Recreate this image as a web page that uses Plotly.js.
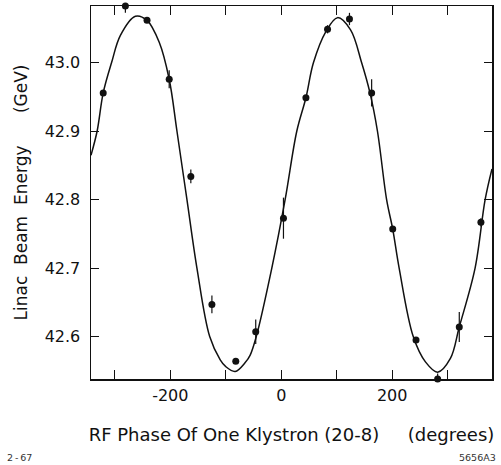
<!DOCTYPE html>
<html>
<head>
<meta charset="utf-8">
<script src="https://cdn.plot.ly/plotly-3.0.1.min.js"></script>
<style>html,body{margin:0;padding:0;background:#fff;}#chart{width:501px;height:465px;}</style>
</head>
<body>
<div id="chart"></div>
<script>
// Measured points
const phase  = [-321, -281, -242, -202, -163, -125, -82, -46, 4, 44.5, 83.5, 123, 163, 201, 243, 282, 321, 360];
const energy = [42.956, 43.083, 43.062, 42.976, 42.834, 42.647, 42.564, 42.607, 42.773, 42.949, 43.049, 43.064, 42.956, 42.757, 42.595, 42.538, 42.614, 42.767];
const energyErr = [0, 0.01, 0.004, 0.013, 0.01, 0.013, 0, 0.018, 0.03, 0, 0.006, 0.009, 0.02, 0, 0, 0.008, 0.022, 0.006];

// Fitted curve
const curvePhase  = [-343, -332, -321, -306, -290, -263, -242, -220, -202, -188, -170, -152, -129, -110, -100, -83, -65, -56, -45, -17, 7, 28, 44.5, 58, 80, 101.5, 125, 145, 160, 173.5, 190, 201, 212.6, 238, 260, 282, 305, 321, 349.5, 367.6, 380];
const curveEnergy = [42.865, 42.9, 42.956, 43.0, 43.04, 43.068, 43.062, 43.03, 42.976, 42.9, 42.8, 42.7, 42.6, 42.566, 42.556, 42.549, 42.562, 42.573, 42.6, 42.7, 42.8, 42.9, 42.949, 43.0, 43.045, 43.066, 43.048, 43.0, 42.956, 42.9, 42.8, 42.757, 42.7, 42.6, 42.563, 42.548, 42.568, 42.614, 42.7, 42.8, 42.845];

const xTickVals = [-300, -200, -100, 0, 100, 200, 300];
const xTickText = ['', '-200', '', '0', '', '200', ''];
const yTickVals = [42.6, 42.7, 42.8, 42.9, 43.0];
const yTickText = ['42.6', '42.7', '42.8', '42.9', '43.0'];

const font = 'DejaVu Sans, Verdana, sans-serif';
const ink = '#111';
const nb = '\u00a0';

const traces = [
  {
    x: curvePhase, y: curveEnergy, type: 'scatter', mode: 'lines',
    line: {color: ink, width: 1.5, shape: 'spline', smoothing: 1.0},
    hoverinfo: 'skip', showlegend: false
  },
  {
    x: phase, y: energy, type: 'scatter', mode: 'markers',
    marker: {color: ink, size: 7},
    error_y: {type: 'data', array: energyErr, visible: true, color: ink, thickness: 1.2, width: 0},
    cliponaxis: false, showlegend: false
  }
];

const layout = {
  width: 501, height: 465,
  margin: {l: 91, r: 9, t: 6, b: 86},
  paper_bgcolor: '#fff', plot_bgcolor: '#fff',
  font: {family: font, color: ink, size: 16},
  showlegend: false,
  xaxis: {
    range: [-343, 380], showgrid: false, zeroline: false,
    showline: true, linecolor: ink, linewidth: 1.5, mirror: 'ticks',
    ticks: 'inside', ticklen: 9, tickwidth: 1.2, tickcolor: ink,
    tickmode: 'array', tickvals: xTickVals, ticktext: xTickText,
    tickfont: {size: 16, family: font, color: ink}, ticklabelstandoff: 1,
    title: {text: 'RF' + nb + 'Phase' + nb + 'Of' + nb + 'One' + nb + 'Klystron' + nb + '(20-8)' + nb.repeat(5) + '(degrees)', font: {size: 18, family: font, color: ink}, standoff: 24}
  },
  yaxis: {
    range: [42.538, 43.083], showgrid: false, zeroline: false,
    showline: true, linecolor: ink, linewidth: 1.5, mirror: 'ticks',
    ticks: 'inside', ticklen: 8, tickwidth: 1.2, tickcolor: ink,
    tickmode: 'array', tickvals: yTickVals, ticktext: yTickText,
    tickfont: {size: 16, family: font, color: ink}, ticklabelstandoff: 6,
    title: {text: 'Linac' + nb + nb + 'Beam' + nb + nb + 'Energy' + nb.repeat(6) + '(GeV)', font: {size: 17, family: font, color: ink}, standoff: 12}
  },
  annotations: [
    {text: '2' + '\u2009-\u2009' + '67', xref: 'paper', yref: 'paper', x: -0.214, y: -0.21, xanchor: 'left', yanchor: 'middle', showarrow: false, font: {size: 9.5, family: font, color: '#333'}},
    {text: '5656A3', xref: 'paper', yref: 'paper', x: 1.015, y: -0.21, xanchor: 'right', yanchor: 'middle', showarrow: false, font: {size: 9.5, family: font, color: '#333'}}
  ]
};

Plotly.newPlot('chart', traces, layout, {displayModeBar: false, staticPlot: true});
</script>
</body>
</html>
